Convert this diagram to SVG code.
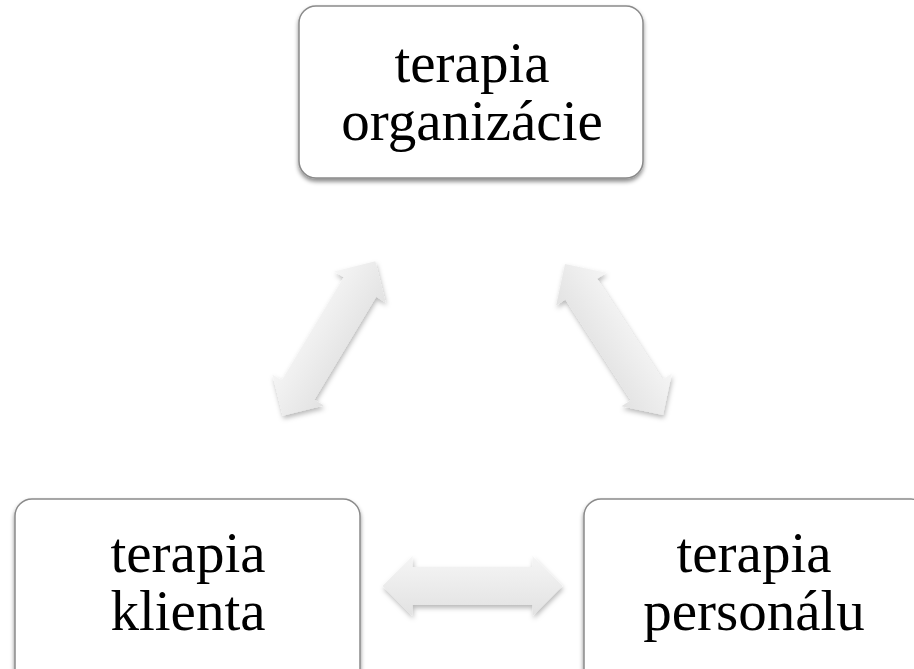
<svg xmlns="http://www.w3.org/2000/svg" width="914" height="669" viewBox="0 0 914 669">
  <defs>
    <style>
      .box { fill: #ffffff; stroke: #8a8a8a; stroke-width: 1.5; }
      .lbl { font-family: "Liberation Serif", "Times New Roman", serif; font-size: 57px; fill: #000000; text-anchor: middle; }
      .arr { fill: url(#arrGrad); }
    </style>
    <linearGradient id="arrGrad" x1="0" y1="0" x2="0" y2="1">
      <stop offset="0" stop-color="#f5f5f5"/>
      <stop offset="1" stop-color="#e2e2e2"/>
    </linearGradient>
    <filter id="boxShadow" x="-10%" y="-10%" width="120%" height="130%">
      <feDropShadow dx="0" dy="3" stdDeviation="2" flood-color="#000000" flood-opacity="0.45"/>
    </filter>
    <filter id="arrShadow" x="-20%" y="-20%" width="140%" height="140%">
      <feDropShadow dx="1" dy="3" stdDeviation="2.5" flood-color="#000000" flood-opacity="0.28"/>
    </filter>
    <path id="dblArrow" d="M-90,0 L-60,-30 L-60,-19 L60,-19 L60,-30 L90,0 L60,30 L60,19 L-60,19 L-60,30 Z"/>
  </defs>

  <g id="connectors">
    <g filter="url(#arrShadow)">
      <use href="#dblArrow" class="arr" transform="translate(329,338.5) rotate(-59)"/>
    </g>
    <g filter="url(#arrShadow)">
      <use href="#dblArrow" class="arr" transform="translate(614,339.5) rotate(57)"/>
    </g>
    <g filter="url(#arrShadow)">
      <use href="#dblArrow" class="arr" transform="translate(472.5,586)"/>
    </g>
  </g>

  <g id="node-organizacie">
    <rect class="box" x="299" y="6" width="344" height="172" rx="17" filter="url(#boxShadow)"/>
    <text class="lbl" x="472" y="82">terapia</text>
    <text class="lbl" x="472" y="140">organizácie</text>
  </g>

  <g id="node-klienta">
    <rect class="box" x="15" y="499" width="345" height="190" rx="17" filter="url(#boxShadow)"/>
    <text class="lbl" x="188" y="572">terapia</text>
    <text class="lbl" x="188" y="630">klienta</text>
  </g>

  <g id="node-personalu">
    <rect class="box" x="584" y="499" width="344" height="190" rx="17" filter="url(#boxShadow)"/>
    <text class="lbl" x="754" y="572">terapia</text>
    <text class="lbl" x="754" y="630">personálu</text>
  </g>
</svg>
